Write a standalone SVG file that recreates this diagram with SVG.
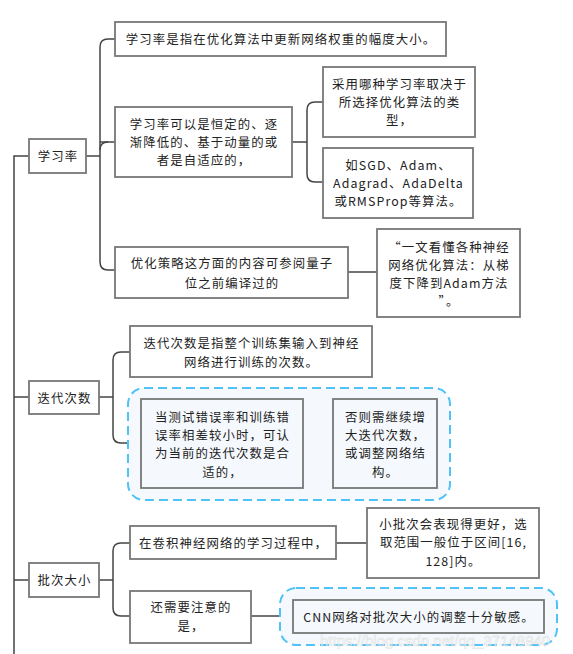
<svg xmlns="http://www.w3.org/2000/svg" width="573" height="654" viewBox="0 0 573 654">
<style>
  .box { fill: #ffffff; stroke: #777777; stroke-width: 1.8; }
  .lbox { fill: #f5f9fd; stroke: #777777; stroke-width: 1.8; }
  .grp { fill: #f5f9fd; stroke: #4fc3f7; stroke-width: 2; stroke-dasharray: 9 5; }
  .ln { fill: none; stroke: #444444; stroke-width: 1.5; }
  text { font-family: "Noto Sans CJK SC", "Noto Sans", sans-serif; font-size: 12.4px; letter-spacing: 1.1px; fill: #222222; text-anchor: middle; dominant-baseline: central; }
  .wm { font-family: "Liberation Sans", sans-serif; font-size: 15px; letter-spacing: 0; fill: #ffffff; stroke: #d0d0d0; stroke-width: 0.5; opacity: 0.7; text-anchor: start; }
</style>
<rect width="573" height="654" fill="#ffffff"/>
<g id="connectors">
  <path class="ln" d="M29,156 H14 V654"/>
  <path class="ln" d="M14,397 H29"/>
  <path class="ln" d="M14,580 H29"/>
  <path class="ln" d="M86,156 H100"/>
  <path class="ln" d="M115,39 H108 Q100,39 100,47 V262 Q100,270 108,270 H115"/>
  <path class="ln" d="M108,142 Q100,142 100,150"/>
  <path class="ln" d="M100,142 H115"/>
  <path class="ln" d="M292,142 H307"/>
  <path class="ln" d="M323,102 H315 Q307,102 307,110 V174 Q307,182 315,182 H323"/>
  <path class="ln" d="M348,272 H377"/>
  <path class="ln" d="M99,397 H113"/>
  <path class="ln" d="M130,352 H121 Q113,352 113,360 V435 Q113,443 121,443 H141"/>
  <path class="ln" d="M303,443 H333"/>
  <path class="ln" d="M99,580 H113"/>
  <path class="ln" d="M130,543 H121 Q113,543 113,551 V608 Q113,616 121,616 H130"/>
  <path class="ln" d="M336,543 H367"/>
  <path class="ln" d="M251,616 H293"/>
</g>
<g id="n-xuexilv">
  <rect class="box" x="29" y="139" width="57" height="34"/>
  <text x="58" y="156">学习率</text>
</g>
<g id="n-lr-def">
  <rect class="box" x="115" y="22" width="331" height="34"/>
  <text x="281" y="39">学习率是指在优化算法中更新网络权重的幅度大小。</text>
</g>
<g id="n-lr-types">
  <rect class="box" x="115" y="107" width="177" height="70"/>
  <text x="204" y="124">学习率可以是恒定的、逐</text>
  <text x="204" y="142">渐降低的、基于动量的或</text>
  <text x="204" y="160">者是自适应的，</text>
</g>
<g id="n-lr-choice">
  <rect class="box" x="323" y="67" width="152" height="70"/>
  <text x="399.5" y="84">采用哪种学习率取决于</text>
  <text x="399.5" y="102">所选择优化算法的类</text>
  <text x="399.5" y="120">型，</text>
</g>
<g id="n-lr-algos">
  <rect class="box" x="323" y="148" width="150" height="70"/>
  <text x="398.5" y="165">如SGD、Adam、</text>
  <text x="398.5" y="183">Adagrad、AdaDelta</text>
  <text x="398.5" y="201">或RMSProp等算法。</text>
</g>
<g id="n-lr-ref">
  <rect class="box" x="115" y="247" width="233" height="51"/>
  <text x="232" y="263">优化策略这方面的内容可参阅量子</text>
  <text x="232" y="283">位之前编译过的</text>
</g>
<g id="n-lr-article">
  <rect class="box" x="377" y="229" width="143" height="88"/>
  <text x="449" y="247">“一文看懂各种神经</text>
  <text x="449" y="265">网络优化算法：从梯</text>
  <text x="449" y="283">度下降到Adam方法</text>
  <text x="449" y="301">”。</text>
</g>
<g id="n-diedai">
  <rect class="box" x="29" y="381" width="70" height="33"/>
  <text x="64.5" y="397.5">迭代次数</text>
</g>
<g id="n-it-def">
  <rect class="box" x="130" y="326" width="242" height="51"/>
  <text x="251.5" y="343">迭代次数是指整个训练集输入到神经</text>
  <text x="251.5" y="362">网络进行训练的次数。</text>
</g>
<g id="g-it-group">
  <rect class="grp" x="128" y="388" width="322" height="112" rx="16"/>
</g>
<g id="n-it-ok">
  <rect class="lbox" x="141" y="399" width="162" height="89"/>
  <text x="222.5" y="417">当测试错误率和训练错</text>
  <text x="222.5" y="435">误率相差较小时，可认</text>
  <text x="222.5" y="453">为当前的迭代次数是合</text>
  <text x="222.5" y="472">适的，</text>
</g>
<g id="n-it-else">
  <rect class="lbox" x="333" y="399" width="104" height="89"/>
  <text x="385.5" y="417">否则需继续增</text>
  <text x="385.5" y="435">大迭代次数，</text>
  <text x="385.5" y="453">或调整网络结</text>
  <text x="385.5" y="472">构。</text>
</g>
<g id="n-pici">
  <rect class="box" x="29" y="563" width="70" height="34"/>
  <text x="64.5" y="580">批次大小</text>
</g>
<g id="n-bs-cnn">
  <rect class="box" x="130" y="526" width="206" height="33"/>
  <text x="233.5" y="542.5">在卷积神经网络的学习过程中，</text>
</g>
<g id="n-bs-small">
  <rect class="box" x="367" y="508" width="172" height="70"/>
  <text x="453.5" y="524">小批次会表现得更好，选</text>
  <text x="453.5" y="542">取范围一般位于区间[16,</text>
  <text x="453.5" y="561">128]内。</text>
</g>
<g id="n-bs-note">
  <rect class="box" x="130" y="591" width="121" height="52"/>
  <text x="191" y="607">还需要注意的</text>
  <text x="191" y="626">是，</text>
</g>
<g id="g-bs-group">
  <rect class="grp" x="280" y="588" width="277" height="57" rx="16"/>
</g>
<g id="n-bs-sens">
  <rect class="lbox" x="293" y="600" width="251" height="33"/>
  <text x="419" y="616.5">CNN网络对批次大小的调整十分敏感。</text>
</g>
<text class="wm" x="320" y="640">https://blog.csdn.net/qq_37148940</text>
</svg>
